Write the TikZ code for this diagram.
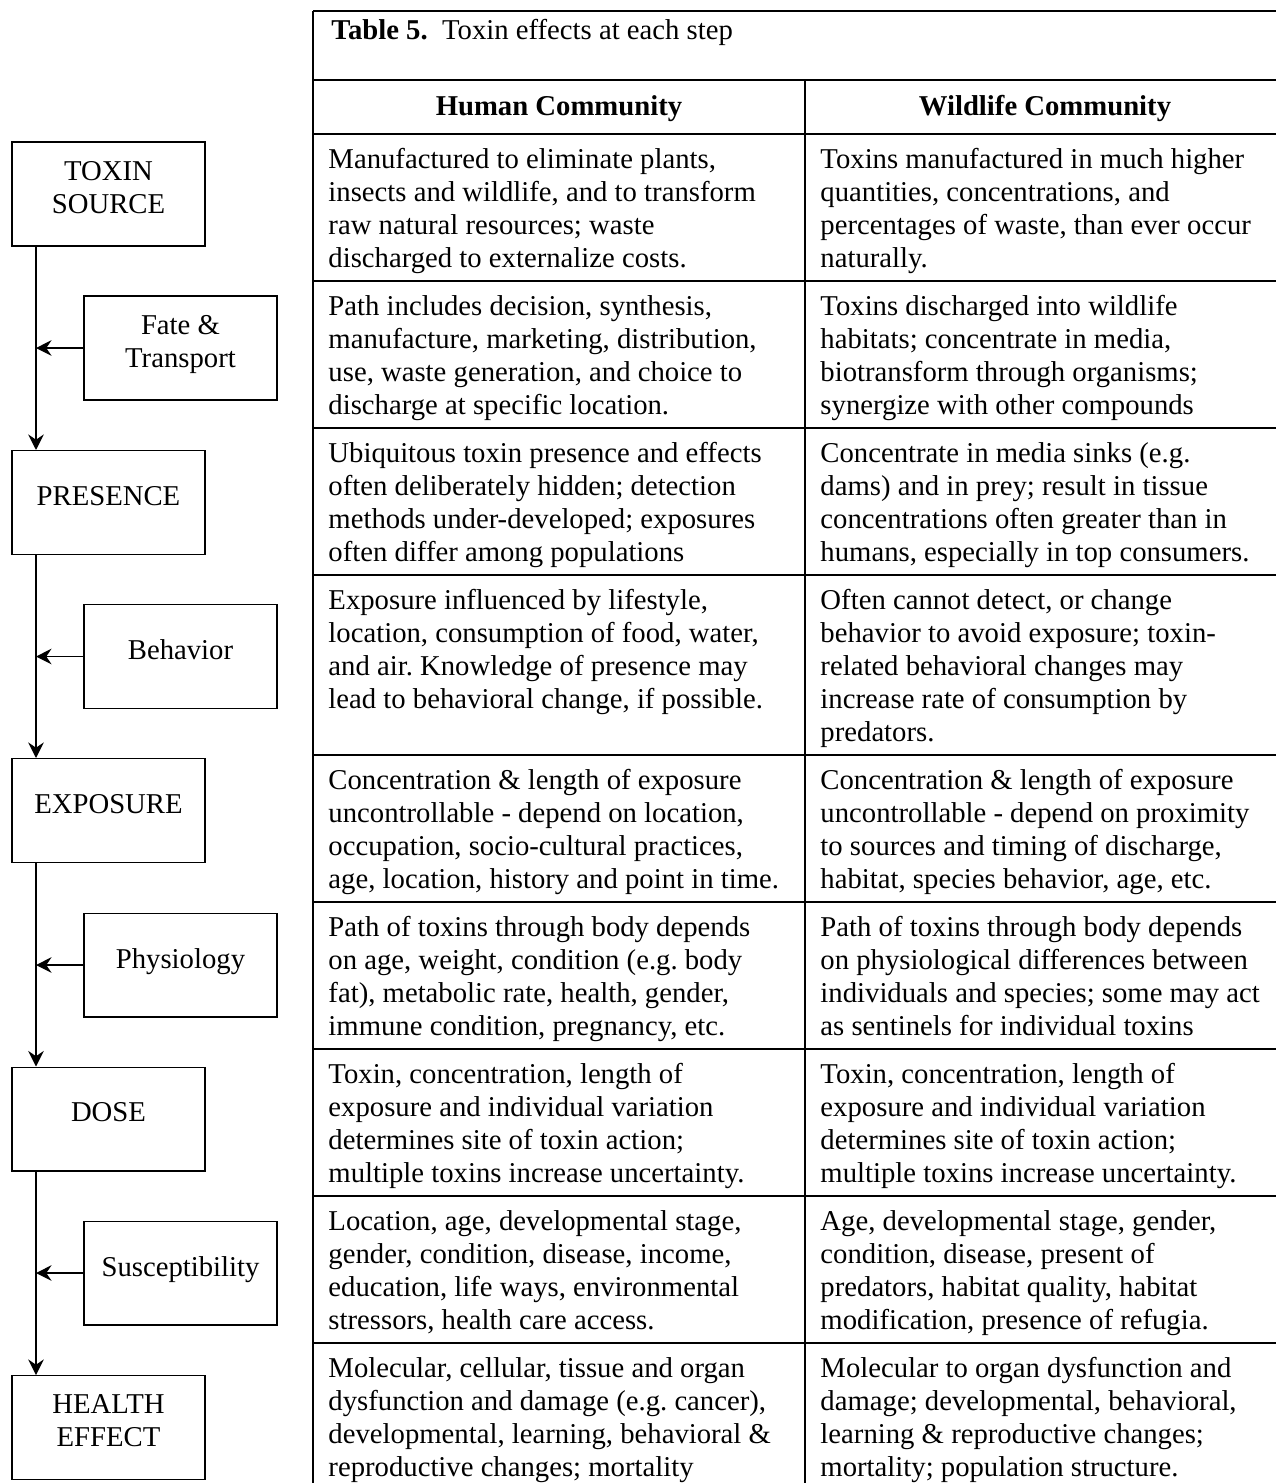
\documentclass[tikz,border=0pt]{standalone}
\usepackage{fontspec}
\setmainfont{Liberation Serif}
\usetikzlibrary{arrows.meta}
\frenchspacing

\begin{document}
\begin{tikzpicture}[x=0.418pt, y=-0.418pt, >={Stealth[length=6.5pt,width=6.5pt,inset=2.2pt]}]

\tikzstyle{every node} = [font=\fontsize{12}{13.8}\selectfont, inner sep=0pt]
\tikzstyle{stepbox} = [draw, line width=0.6pt, minimum width=80.7pt, minimum height=43.3pt, align=center, text depth=5.5pt]
\tikzstyle{cell} = [anchor=north west, align=left]
\tikzstyle{head} = [anchor=base, font=\fontsize{12}{13.8}\selectfont\bfseries]
\tikzstyle{rule} = [line width=0.75pt]

\useasboundingbox (0,0) rectangle (1276,1483);

% steps
\node[stepbox] (s) at (108.5,194) {TOXIN\\SOURCE};
\node[stepbox] (p) at (108.5,502.5) {PRESENCE};
\node[stepbox] (e) at (108.5,810.5) {EXPOSURE};
\node[stepbox] (d) at (108.5,1119) {DOSE};
\node[stepbox] (h) at (108.5,1427.5) {HEALTH\\EFFECT};

% modifiers
\node[stepbox] (ft) at (180.5,348) {Fate \&\\Transport};
\node[stepbox] (b) at (180.5,656.5) {Behavior};
\node[stepbox] (ph) at (180.5,965) {Physiology};
\node[stepbox] (su) at (180.5,1273) {Susceptibility};

\coordinate (l) at (36,0);

\draw[->, line width=0.6pt] (s.south -| l) -- (p.north -| l);
\draw[->, line width=0.6pt] (p.south -| l) -- (e.north -| l);
\draw[->, line width=0.6pt] (e.south -| l) -- (d.north -| l);
\draw[->, line width=0.6pt] (d.south -| l) -- (h.north -| l);

\draw[->, line width=0.6pt] (ft.west) -- (ft.west -| l);
\draw[->, line width=0.6pt] (b.west) -- (b.west -| l);
\draw[->, line width=0.6pt] (ph.west) -- (ph.west -| l);
\draw[->, line width=0.6pt] (su.west) -- (su.west -| l);

% table rules
\draw[rule] (313,11) -- (1276,11);
\draw[rule] (313,80) -- (1276,80);
\draw[rule] (313,134) -- (1276,134);
\draw[rule] (313,281) -- (1276,281);
\draw[rule] (313,428) -- (1276,428);
\draw[rule] (313,575) -- (1276,575);
\draw[rule] (313,755) -- (1276,755);
\draw[rule] (313,902) -- (1276,902);
\draw[rule] (313,1049) -- (1276,1049);
\draw[rule] (313,1196) -- (1276,1196);
\draw[rule] (313,1343) -- (1276,1343);
\draw[rule] (313,11) -- (313,1483);
\draw[rule] (805,80) -- (805,1483);

\node[anchor=base west] (t) at (331,39) {\textbf{Table 5.}\ \ Toxin effects at each step};
\node[head] (hc) at (559,115) {Human Community};
\node[head] (wc) at (1045,115) {Wildlife Community};

% human column
\node[cell] (h1) at (328,144.5) {\strut Manufactured to eliminate plants,\\insects and wildlife, and to transform\\raw natural resources; waste\\discharged to externalize costs.};
\node[cell] (h2) at (328,291.5) {\strut Path includes decision, synthesis,\\manufacture, marketing, distribution,\\use, waste generation, and choice to\\discharge at specific location.};
\node[cell] (h3) at (328,438.5) {\strut Ubiquitous toxin presence and effects\\often deliberately hidden; detection\\methods under-developed; exposures\\often differ among populations};
\node[cell] (h4) at (328,585.5) {\strut Exposure influenced by lifestyle,\\location, consumption of food, water,\\and air. Knowledge of presence may\\lead to behavioral change, if possible.};
\node[cell] (h5) at (328,765.5) {\strut Concentration \& length of exposure\\uncontrollable - depend on location,\\occupation, socio-cultural practices,\\age, location, history and point in time.};
\node[cell] (h6) at (328,912.5) {\strut Path of toxins through body depends\\on age, weight, condition (e.g. body\\fat), metabolic rate, health, gender,\\immune condition, pregnancy, etc.};
\node[cell] (h7) at (328,1059.5) {\strut Toxin, concentration, length of\\exposure and individual variation\\determines site of toxin action;\\multiple toxins increase uncertainty.};
\node[cell] (h8) at (328,1206.5) {\strut Location, age, developmental stage,\\gender, condition, disease, income,\\education, life ways, environmental\\stressors, health care access.};
\node[cell] (h9) at (328,1353.5) {\strut Molecular, cellular, tissue and organ\\dysfunction and damage (e.g. cancer),\\developmental, learning, behavioral \&\\reproductive changes; mortality};

% wildlife column
\node[cell] (w1) at (820,144.5) {\strut Toxins manufactured in much higher\\quantities, concentrations, and\\percentages of waste, than ever occur\\naturally.};
\node[cell] (w2) at (820,291.5) {\strut Toxins discharged into wildlife\\habitats; concentrate in media,\\biotransform through organisms;\\synergize with other compounds};
\node[cell] (w3) at (820,438.5) {\strut Concentrate in media sinks (e.g.\\dams) and in prey; result in tissue\\concentrations often greater than in\\humans, especially in top consumers.};
\node[cell] (w4) at (820,585.5) {\strut Often cannot detect, or change\\behavior to avoid exposure; toxin-\\related behavioral changes may\\increase rate of consumption by\\predators.};
\node[cell] (w5) at (820,765.5) {\strut Concentration \& length of exposure\\uncontrollable - depend on proximity\\to sources and timing of discharge,\\habitat, species behavior, age, etc.};
\node[cell] (w6) at (820,912.5) {\strut Path of toxins through body depends\\on physiological differences between\\individuals and species; some may act\\as sentinels for individual toxins};
\node[cell] (w7) at (820,1059.5) {\strut Toxin, concentration, length of\\exposure and individual variation\\determines site of toxin action;\\multiple toxins increase uncertainty.};
\node[cell] (w8) at (820,1206.5) {\strut Age, developmental stage, gender,\\condition, disease, present of\\predators, habitat quality, habitat\\modification, presence of refugia.};
\node[cell] (w9) at (820,1353.5) {\strut Molecular to organ dysfunction and\\damage; developmental, behavioral,\\learning \& reproductive changes;\\mortality; population structure.};

\end{tikzpicture}
\end{document}
